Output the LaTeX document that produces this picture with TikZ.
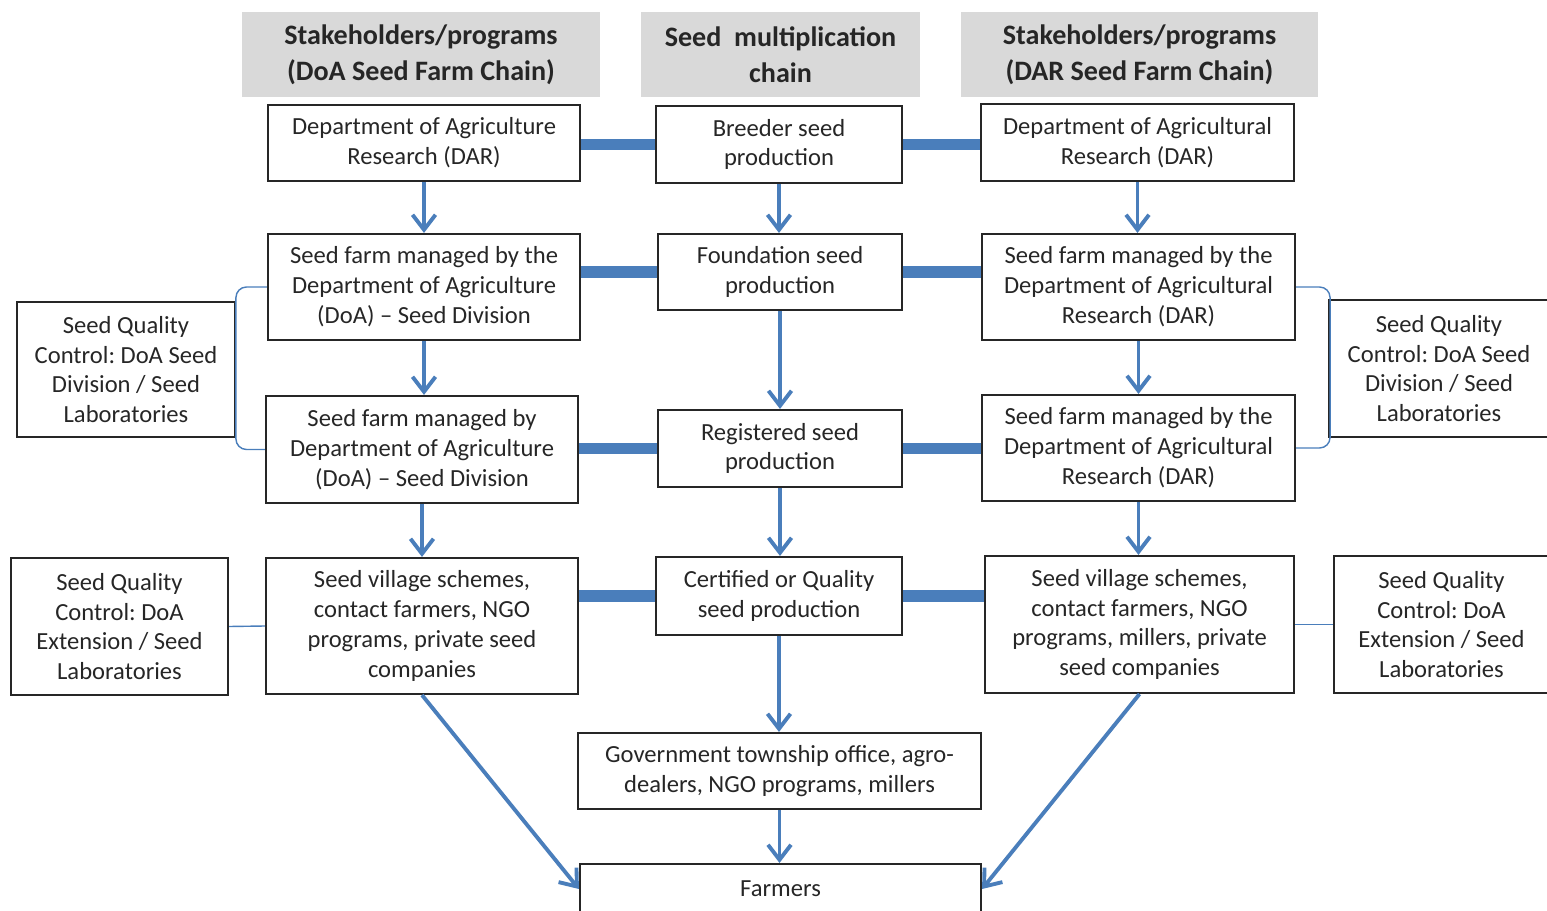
\documentclass[tikz,border=0pt]{standalone}
\usepackage{fontspec}
\setmainfont{Carlito}
\usepackage{tikz}
\usetikzlibrary{arrows.meta,positioning,calc}
\definecolor{linkblue}{HTML}{4A7EBB}
\definecolor{headgray}{HTML}{D9D9D9}
\definecolor{inkgray}{HTML}{262626}
\frenchspacing

\begin{document}
\begin{tikzpicture}[x=0.02cm, y=-0.02cm, font=\fontsize{14}{17}\selectfont,
  box/.style 2 args={draw=inkgray, line width=1.2pt, text=inkgray, align=center,
    inner sep=0pt, minimum width=#1*0.02cm, minimum height=#2*0.02cm},
  head/.style={fill=headgray, text=inkgray, align=center, inner sep=0pt,
    font=\fontsize{16}{20.5}\selectfont\bfseries,
    minimum width=#1*0.02cm, minimum height=85*0.02cm},
  arr/.style={-{Straight Barb[length=3mm,width=4.6mm]}, line width=2.2pt, linkblue},
  link/.style={line width=6.5pt, linkblue},
  bracket/.style={line width=0.8pt, linkblue, rounded corners=6pt}]
  \useasboundingbox (0,0) rectangle (1547,911);

  % Column headers
  \node[head=358] (hl) at (421,54.5) {Stakeholders/programs\\(DoA Seed Farm Chain)};
  \node[head=279] (hm) at (780.5,54.5) {Seed\ \ multiplication\\chain};
  \node[head=357] (hr) at (1139.5,54.5) {Stakeholders/programs\\(DAR Seed Farm Chain)};

  % Seed multiplication chain
  \node[box={246}{77}] (m1) at (779,144.5) {Breeder seed\\production};
  \node[box={244}{76}] (m2) at (780,272) {Foundation seed\\production};
  \node[box={244}{77}] (m3) at (780,448.5) {Registered seed\\production};
  \node[box={246}{78}] (m4) at (779,596) {Certified or Quality\\seed production};
  \node[box={403}{76}] (gov) at (779.5,771) {Government township office, agro-\\dealers, NGO programs, millers};
  \node[box={401}{50}] (farm) at (780.5,889) {Farmers};

  % DoA seed farm chain
  \node[box={312}{76}] (l1) at (424,143) {Department of Agriculture\\Research (DAR)};
  \node[box={312}{106}] (l2) at (424,287) {Seed farm managed by the\\Department of Agriculture\\(DoA) -- Seed Division};
  \node[box={312}{107}] (l3) at (422,449.5) {Seed farm managed by\\Department of Agriculture\\(DoA) -- Seed Division};
  \node[box={312}{136}] (l4) at (422,626) {Seed village schemes,\\contact farmers, NGO\\programs, private seed\\companies};

  % DAR seed farm chain
  \node[box={313}{77}] (r1) at (1137.5,142.5) {Department of Agricultural\\Research (DAR)};
  \node[box={313}{106}] (r2) at (1138.5,287) {Seed farm managed by the\\Department of Agricultural\\Research (DAR)};
  \node[box={313}{106}] (r3) at (1138.5,448) {Seed farm managed by the\\Department of Agricultural\\Research (DAR)};
  \node[box={309}{137}] (r4) at (1139.5,624.5) {Seed village schemes,\\contact farmers, NGO\\programs, millers, private\\seed companies};

  % Quality control
  \node[box={218}{135}] (qcl1) at (126,369.5) {Seed Quality\\Control: DoA Seed\\Division / Seed\\Laboratories};
  \node[box={220}{137}] (qcr1) at (1439,368.5) {Seed Quality\\Control: DoA Seed\\Division / Seed\\Laboratories};
  \node[box={217}{137}] (qcl2) at (119.5,626.5) {Seed Quality\\Control: DoA\\Extension / Seed\\Laboratories};
  \node[box={215}{137}] (qcr2) at (1441.5,624.5) {Seed Quality\\Control: DoA\\Extension / Seed\\Laboratories};

  % Links across the chains
  \foreach \m/\l/\r in {m1/l1/r1, m2/l2/r2, m3/l3/r3, m4/l4/r4}{
    \draw[link] (\m.west -| \l.east) -- (\m.west);
    \draw[link] (\m.east) -- (\m.east -| \r.west);
  }

  % Downward flow
  \foreach \a/\b in {m1/m2, m2/m3, m3/m4, m4/gov, gov/farm, l1/l2, l2/l3, l3/l4, r1/r2, r2/r3, r3/r4}
    \draw[arr] (\a.south) -- (\a.south |- \b.north);
  \draw[arr] (l4.south) -- (farm.west);
  \draw[arr] (r4.south) -- (farm.east);

  % Quality control links
  \draw[bracket] (l2.west) -- ++(-31,0) |- (l3.west);
  \draw[bracket] (r2.east) -- ++(34,0) |- (r3.east);
  \draw[linkblue, line width=0.8pt] (qcl2.east) -- (l4.west);
  \draw[linkblue, line width=0.8pt] (r4.east) -- (qcr2.west);
\end{tikzpicture}
\end{document}
